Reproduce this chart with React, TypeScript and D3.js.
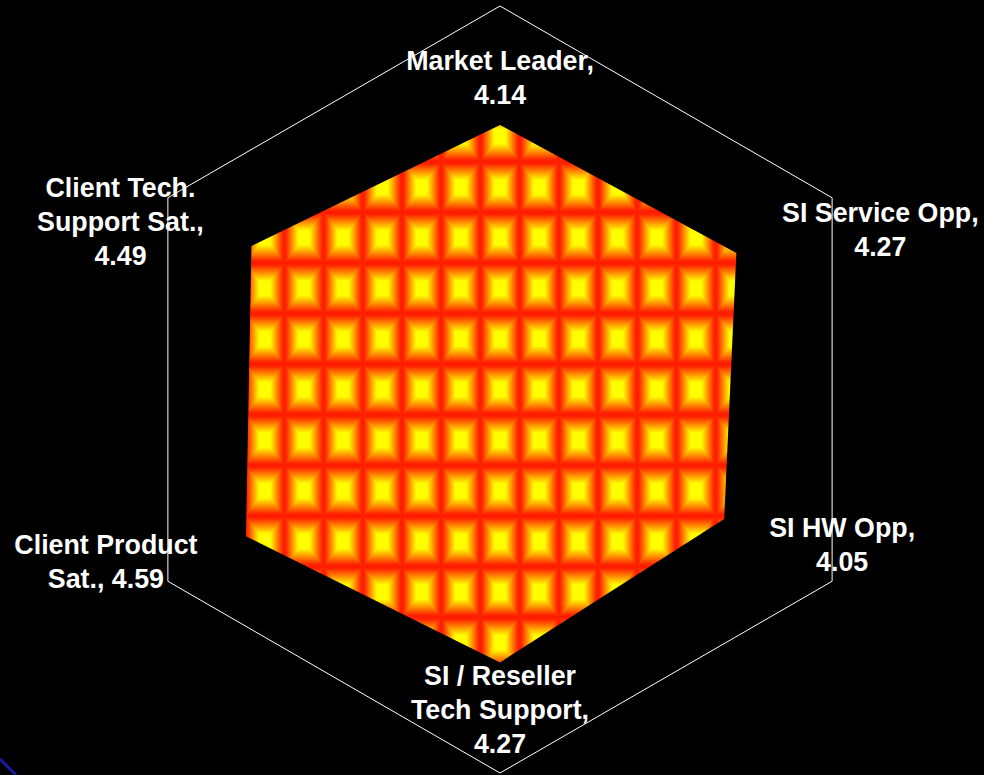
import React from "react";
import * as d3 from "d3";

const CATEGORIES = [
  "Market Leader",
  "SI Service Opp",
  "SI HW Opp",
  "SI / Reseller Tech Support",
  "Client Product Sat.",
  "Client Tech. Support Sat.",
];
const VALUES = [4.14, 4.27, 4.05, 4.27, 4.59, 4.49];
const AXIS_MAX = 6;
// how each label is broken into lines ({v} = value)
const LABEL_LINES = [
  ["Market Leader,", "{v}"],
  ["SI Service Opp,", "{v}"],
  ["SI HW Opp,", "{v}"],
  ["SI / Reseller", "Tech Support,", "{v}"],
  ["Client Product", "Sat., {v}"],
  ["Client Tech.", "Support Sat.,", "{v}"],
];

// layout / style
const W = 984;
const H = 775;
const CX = 500;
const CY = 389.5;
const R = 383.5;
const LABEL_OFFSETS: [number, number][] = [
  [0, -47],
  [144, -23],
  [118, 26],
  [0, 48],
  [-140, 26],
  [-131, -24],
];
const FONT_SIZE = 26.8;
const LINE_H = 34;
const TILE = { x: 245.2, y: 111.2, w: 39.2, h: 50.6 };

export default function App() {
  const n = CATEGORIES.length;
  const angle = d3
    .scaleLinear()
    .domain([0, n])
    .range([0, 2 * Math.PI]);
  const r = d3.scaleLinear().domain([0, AXIS_MAX]).range([0, R]);

  const pt = (i: number, v: number): [number, number] => {
    const a = angle(i);
    return [CX + r(v) * Math.sin(a), CY - r(v) * Math.cos(a)];
  };

  const line = d3.line().curve(d3.curveLinearClosed);
  const gridPath = line(CATEGORIES.map((_, i) => pt(i, AXIS_MAX))) || "";
  const dataPath = line(VALUES.map((v, i) => pt(i, v))) || "";

  const tw = TILE.w;
  const th = TILE.h;
  const tcx = tw / 2;
  const tcy = th / 2;

  const stops = (
    <>
      <stop offset="0" stopColor="#ff1800" />
      <stop offset="0.1" stopColor="#ff2800" />
      <stop offset="0.72" stopColor="#ffff00" />
      <stop offset="1" stopColor="#ffff00" />
    </>
  );

  const tri = [
    { id: "gT", d: `M0,0L${tw},0L${tcx},${tcy}Z` },
    { id: "gB", d: `M0,${th}L${tw},${th}L${tcx},${tcy}Z` },
    { id: "gL", d: `M0,0L0,${th}L${tcx},${tcy}Z` },
    { id: "gR", d: `M${tw},0L${tw},${th}L${tcx},${tcy}Z` },
  ];

  return (
    <div style={{ position: "fixed", left: 0, top: 0, width: W, height: H, background: "#000" }}>
      <svg width={W} height={H} style={{ display: "block" }}>
        <defs>
          <linearGradient id="gT" x1="0" y1="0" x2="0" y2="1">{stops}</linearGradient>
          <linearGradient id="gB" x1="0" y1="1" x2="0" y2="0">{stops}</linearGradient>
          <linearGradient id="gL" x1="0" y1="0" x2="1" y2="0">{stops}</linearGradient>
          <linearGradient id="gR" x1="1" y1="0" x2="0" y2="0">{stops}</linearGradient>
          <pattern
            id="tiles"
            patternUnits="userSpaceOnUse"
            x={TILE.x}
            y={TILE.y}
            width={tw}
            height={th}
          >
            <rect width={tw} height={th} fill="#ffa000" />
            {tri.map((t) => (
              <path
                key={t.id}
                d={t.d}
                fill={`url(#${t.id})`}
                stroke={`url(#${t.id})`}
                strokeWidth={0.6}
              />
            ))}
          </pattern>
        </defs>
        <rect width={W} height={H} fill="#000" />
        <path d={gridPath} fill="none" stroke="#ffffff" strokeWidth={1} />
        <path d={dataPath} fill="url(#tiles)" stroke="none" />
        {CATEGORIES.map((c, i) => {
          const [px, py] = pt(i, VALUES[i]);
          const lx = px + LABEL_OFFSETS[i][0];
          const ly = py + LABEL_OFFSETS[i][1];
          const lines = LABEL_LINES[i].map((s) => s.replace("{v}", VALUES[i].toFixed(2)));
          const first = ly - ((lines.length - 1) * LINE_H) / 2 + 25 * 0.36;
          return (
            <text
              key={c}
              x={lx}
              y={first}
              textAnchor="middle"
              fill="#ffffff"
              fontFamily="Arial, 'Liberation Sans', sans-serif"
              fontWeight="bold"
              fontSize={FONT_SIZE}
            >
              {lines.map((s, k) => (
                <tspan key={k} x={lx} y={first + k * LINE_H}>
                  {s}
                </tspan>
              ))}
            </text>
          );
        })}
        <line x1={0} y1={759} x2={16} y2={775} stroke="#1a1aa8" strokeWidth={3} />
      </svg>
    </div>
  );
}
